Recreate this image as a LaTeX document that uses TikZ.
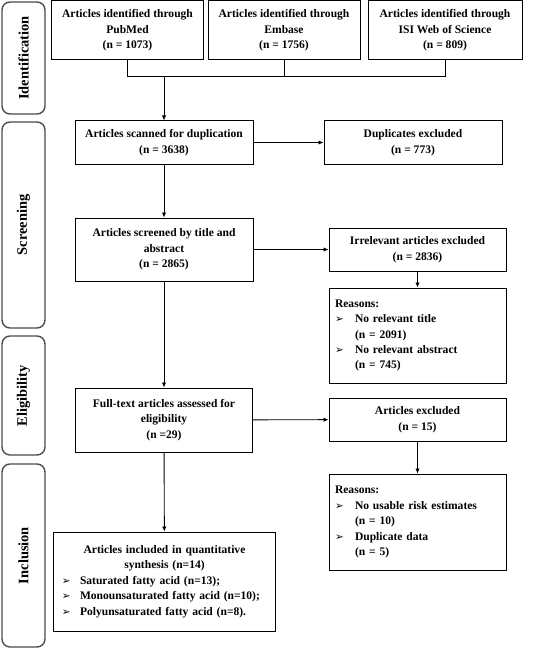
\documentclass[tikz,border=0pt]{standalone}
\usepackage{fontspec}
\setmainfont{Liberation Serif}
\newfontfamily\symfont{DejaVu Sans}
\usetikzlibrary{arrows.meta,positioning,calc}

\newcommand{\bul}[1][20bp]{\makebox[#1][l]{\symfont\fontsize{10.5}{10}\selectfont ➢}}

\begin{document}
\begin{tikzpicture}[
            x=1bp, y=-1bp,
            every node/.style={font=\bfseries\fontsize{11.6}{15.5}\selectfont},
            box/.style={draw=black, line width=1bp, inner sep=0pt, align=center},
            listbox/.style={draw=black, line width=1bp, inner sep=6bp, align=left},
            phase/.style={draw=black!70, line width=1.4bp, rounded corners=8bp,
                          minimum width=43bp},
            phasetext/.style={rotate=90, font=\bfseries\fontsize{14.5}{16}\selectfont},
            arr/.style={-{Latex[length=5bp,width=4.5bp]}, line width=0.9bp},
            line/.style={line width=0.9bp}
          ]
          \useasboundingbox (0,0) rectangle (550,649);

          % phases on the left
          \node[phase, minimum height=112bp] (ident) at (23.5,58) {};
          \node[phasetext] at (ident) {Identification};
          \node[phase, minimum height=206bp] (screen) at (23.5,225) {};
          \node[phasetext] at (screen) {Screening};
          \node[phase, minimum height=119bp] (elig) at (23.5,395.5) {};
          \node[phasetext] at (elig) {Eligibility};
          \node[phase, minimum height=183bp] (incl) at (23.5,555.5) {};
          \node[phasetext] at (incl) {Inclusion};

          % identification
          \node[box, minimum width=151bp, minimum height=59bp] (pubmed) at (127.5,30.5)
            {Articles identified through\\PubMed\\(n = 1073)};
          \node[box, minimum width=152bp, minimum height=59bp] (embase) at (284,30.5)
            {Articles identified through\\Embase\\(n = 1756)};
          \node[box, minimum width=154bp, minimum height=59bp] (isi) at (445,30.5)
            {Articles identified through\\ISI Web of Science\\(n = 809)};

          % screening
          \node[box, minimum width=178bp, minimum height=43bp] (scanned) at (164,142.5)
            {Articles scanned for duplication\\(n = 3638)};
          \node[box, minimum width=178bp, minimum height=43bp] (dupl) at (413,142.5)
            {Duplicates excluded\\(n = 773)};
          \node[box, minimum width=178bp, minimum height=63bp] (screened) at (164,249.5)
            {Articles screened by title and\\abstract\\(n = 2865)};
          \node[box, minimum width=177bp, minimum height=43bp] (irrel) at (417.5,249.5)
            {Irrelevant articles excluded\\(n = 2836)};
          \node[listbox, text width=165bp, minimum height=95bp] (reasonsA) at (417.5,335.5)
            {Reasons:\\
             \bul No relevant title\\
             \hspace*{20bp}(n = 2091)\\
             \bul No relevant abstract\\
             \hspace*{20bp}(n = 745)};

          % eligibility
          \node[box, minimum width=177bp, minimum height=64bp] (fulltext) at (164,420)
            {Full-text articles assessed for\\eligibility\\(n =29)};
          \node[box, minimum width=177bp, minimum height=43bp] (excl) at (417.5,419.5)
            {Articles excluded\\(n = 15)};
          \node[listbox, text width=165bp, minimum height=96bp] (reasonsB) at (417.5,522)
            {Reasons:\\
             \bul No usable risk estimates\\
             \hspace*{20bp}(n = 10)\\
             \bul Duplicate data\\
             \hspace*{20bp}(n = 5)};

          % inclusion
          \node[listbox, inner sep=8bp, text width=205bp, minimum height=99bp] (included) at (164.5,581.5)
            {\makebox[205bp][c]{Articles included in quantitative}\\
             \makebox[205bp][c]{synthesis (n=14)}\\
             \bul[18bp]Saturated fatty acid (n=13);\\
             \bul[18bp]Monounsaturated fatty acid (n=10);\\
             \bul[18bp]Polyunsaturated fatty acid (n=8).};

          % connectors
          \coordinate (bar) at (164,76);
          \draw[line] (pubmed.south) |- (isi.south |- bar) -- (isi.south);
          \draw[line] (embase.south) -- (embase.south |- bar);
          \draw[arr] (bar) -- (scanned.north);
          \draw[arr] (scanned) -- (dupl);
          \draw[arr] (scanned) -- (screened);
          \draw[arr] (screened) -- (irrel);
          \draw[arr] (irrel) -- (reasonsA);
          \draw[arr] (screened) -- (fulltext);
          \draw[arr] (fulltext) -- (excl);
          \draw[arr] (excl) -- (reasonsB);
          \draw[arr] (fulltext) -- (included);
        \end{tikzpicture}
\end{document}
